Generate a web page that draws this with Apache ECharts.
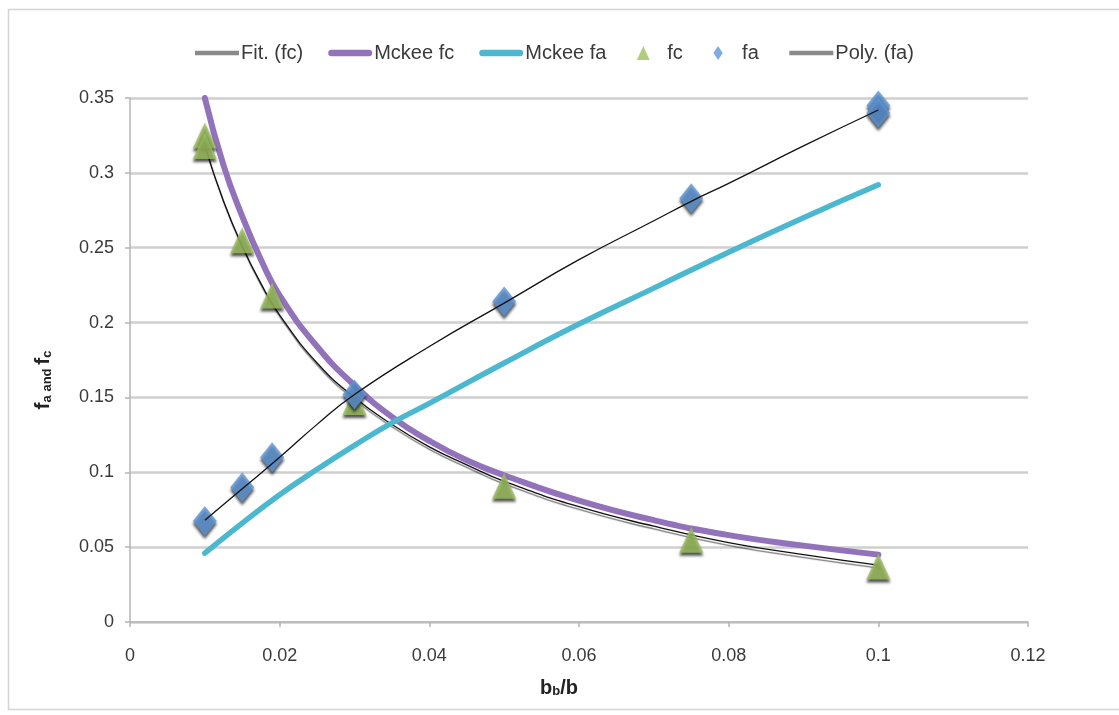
<!DOCTYPE html>
<html>
<head>
<meta charset="utf-8">
<script src="https://cdn.jsdelivr.net/npm/echarts@6/dist/echarts.min.js"></script>
<style>
  html, body { margin: 0; padding: 0; background: #fff; }
  #chart { width: 1119px; height: 715px; }
</style>
</head>
<body>
<div id="chart"></div>
<script>
// Axis ticks
const xTicks = [0, 0.02, 0.04, 0.06, 0.08, 0.1, 0.12];
const yTicks = [0, 0.05, 0.1, 0.15, 0.2, 0.25, 0.3, 0.35];

// Measured points
const fcX = [0.01, 0.01, 0.015, 0.019, 0.03, 0.05, 0.075, 0.1];
const fcY = [0.325, 0.318, 0.255, 0.218, 0.147, 0.091, 0.055, 0.037];
const faX = [0.01, 0.015, 0.019, 0.03, 0.05, 0.075, 0.1, 0.1];
const faY = [0.0675, 0.090, 0.110, 0.152, 0.214, 0.283, 0.345, 0.340];

// Fitted curve for fc
const fitFcX = [0.010, 0.0125, 0.015, 0.0175, 0.02, 0.025, 0.03, 0.035, 0.04, 0.045, 0.05, 0.06, 0.07, 0.08, 0.09, 0.1];
const fitFcY = [0.318, 0.281, 0.251, 0.226, 0.205, 0.173, 0.150, 0.132, 0.117, 0.105, 0.094, 0.077, 0.064, 0.053, 0.045, 0.038];

// Polynomial trend for fa
const polyFaX = [0.010, 0.015, 0.02, 0.025, 0.03, 0.04, 0.05, 0.06, 0.07, 0.075, 0.08, 0.09, 0.1];
const polyFaY = [0.068, 0.089, 0.110, 0.132, 0.152, 0.184, 0.213, 0.242, 0.268, 0.281, 0.293, 0.318, 0.342];

// McKee curves
const mckeeFcX = [0.010, 0.0125, 0.015, 0.0175, 0.02, 0.025, 0.03, 0.035, 0.04, 0.045, 0.05, 0.06, 0.07, 0.08, 0.09, 0.1];
const mckeeFcY = [0.350, 0.305, 0.271, 0.242, 0.218, 0.184, 0.158, 0.137, 0.121, 0.108, 0.098, 0.081, 0.068, 0.058, 0.051, 0.045];
const mckeeFaX = [0.010, 0.015, 0.02, 0.025, 0.03, 0.035, 0.04, 0.05, 0.06, 0.07, 0.08, 0.09, 0.1];
const mckeeFaY = [0.046, 0.066, 0.085, 0.102, 0.118, 0.133, 0.146, 0.173, 0.199, 0.223, 0.247, 0.270, 0.292];

const zip = (xs, ys) => xs.map((x, i) => [x, ys[i]]);

const FONT = "'Liberation Sans', Arial, sans-serif";
const TXT = '#3a3a3a';

// Legend glyphs
const ICON_THIN = 'path://M0,0 L40,0 L40,4 L0,4 Z';
const ICON_THICK = 'path://M3,0 L37,0 A3,3 0 0 1 37,6 L3,6 A3,3 0 0 1 3,0 Z';
const ICON_TRI = 'path://M5,0 L10,11 L0,11 Z';
const ICON_DIA = 'path://M5,0 L9,6 L5,12 L1,6 Z';

// Extra space after some legend labels (marker entries sit further apart)
const legendTrail = { 'Mckee fa': 'g18', 'fc': 'g17', 'fa': 'g6' };

const chart = echarts.init(document.getElementById('chart'), null, { renderer: 'canvas' });

const markerShadow = {
  shadowColor: 'rgba(0,0,0,0.85)',
  shadowBlur: 3,
  shadowOffsetX: 0,
  shadowOffsetY: 3
};
const noShadow = { shadowBlur: 0, shadowOffsetY: 0, shadowColor: 'transparent' };

chart.setOption({
  backgroundColor: '#fff',
  animation: false,
  graphic: [{
    type: 'rect',
    shape: { x: 8.5, y: 9.5, width: 1130, height: 700 },
    style: { fill: 'none', stroke: '#d4d4d4', lineWidth: 1.5 },
    silent: true, z: -10
  }],
  legend: {
    left: 190,
    top: 38,
    itemWidth: 44,
    itemHeight: 14,
    itemGap: 25,
    symbolKeepAspect: true,
    formatter: name => legendTrail[name] ? name + '{' + legendTrail[name] + '|\u00a0}' : name,
    textStyle: {
      fontFamily: FONT, fontSize: 20, color: TXT, padding: [0, 0, 0, -3],
      rich: {
        g18: { width: 18, fontSize: 20 },
        g17: { width: 17, fontSize: 20 },
        g6: { width: 6, fontSize: 20 }
      }
    },
    data: [
      { name: 'Fit. (fc)', icon: ICON_THIN, itemStyle: { color: '#8a8a8a' } },
      { name: 'Mckee fc', icon: ICON_THICK, itemStyle: { color: '#9273bb' } },
      { name: 'Mckee fa', icon: ICON_THICK, itemStyle: { color: '#4cb8d0' } },
      { name: 'fc', icon: ICON_TRI, itemStyle: Object.assign({ color: '#9cc15e' }, noShadow) },
      { name: 'fa', icon: ICON_DIA, itemStyle: Object.assign({ color: '#5f97d8' }, noShadow) },
      { name: 'Poly. (fa)', icon: ICON_THIN, itemStyle: { color: '#8a8a8a' } }
    ]
  },
  grid: { left: 130, right: 91, top: 98, bottom: 93, containLabel: false },
  xAxis: {
    type: 'value',
    min: xTicks[0],
    max: xTicks[xTicks.length - 1],
    interval: 0.02,
    name: 'b{sub|b}/b',
    nameLocation: 'middle',
    nameGap: 56,
    nameTextStyle: {
      fontFamily: FONT, fontSize: 20, fontWeight: 'bold', color: '#222', padding: [0, 40, 0, 0],
      rich: { sub: { fontFamily: FONT, fontSize: 13, fontWeight: 'bold', color: '#222', verticalAlign: 'bottom', padding: [6, 0, 0, 0] } }
    },
    axisLine: { show: true, lineStyle: { color: '#b5b5b5', width: 1.5 } },
    axisTick: { show: true, length: 5, lineStyle: { color: '#b5b5b5', width: 1.5 } },
    axisLabel: {
      margin: 25, fontFamily: FONT, fontSize: 18, color: TXT,
      formatter: v => String(parseFloat(v.toFixed(4)))
    },
    splitLine: { show: false }
  },
  yAxis: {
    type: 'value',
    min: yTicks[0],
    max: yTicks[yTicks.length - 1],
    interval: 0.05,
    name: 'f{sub|a and }f{sub|c}',
    nameLocation: 'middle',
    nameRotate: 90,
    nameGap: 76,
    nameTextStyle: {
      fontFamily: FONT, fontSize: 21, fontWeight: 'bold', color: '#222', padding: [0, 0, 0, -40],
      rich: { sub: { fontFamily: FONT, fontSize: 13, fontWeight: 'bold', color: '#222', verticalAlign: 'bottom', padding: [6, 0, 0, 0] } }
    },
    axisLine: { show: true, lineStyle: { color: '#b5b5b5', width: 1.5 } },
    axisTick: { show: true, length: 5, lineStyle: { color: '#b5b5b5', width: 1.5 } },
    axisLabel: {
      margin: 16, fontFamily: FONT, fontSize: 18, color: TXT,
      formatter: v => String(parseFloat(v.toFixed(4)))
    },
    splitLine: { show: true, lineStyle: { color: '#cfcfcf', width: 2.5 } }
  },
  series: [
    {
      name: 'Fit. (fc)',
      type: 'line',
      smooth: 0.5,
      symbol: 'none',
      data: zip(fitFcX, fitFcY),
      lineStyle: { color: '#111', width: 1.3, shadowColor: 'rgba(0,0,0,0.55)', shadowBlur: 1, shadowOffsetX: 1, shadowOffsetY: 3 },
      itemStyle: { color: '#111' },
      z: 2
    },
    {
      name: 'Mckee fc',
      type: 'line',
      smooth: 0.5,
      symbol: 'none',
      data: zip(mckeeFcX, mckeeFcY),
      lineStyle: { color: '#9273bb', width: 6, cap: 'round' },
      itemStyle: { color: '#9273bb' },
      z: 3
    },
    {
      name: 'Mckee fa',
      type: 'line',
      smooth: 0.5,
      symbol: 'none',
      data: zip(mckeeFaX, mckeeFaY),
      lineStyle: { color: '#4cb8d0', width: 5.5, cap: 'round' },
      itemStyle: { color: '#4cb8d0' },
      z: 3
    },
    {
      name: 'fc',
      type: 'scatter',
      symbol: 'triangle',
      symbolSize: [24, 26],
      data: zip(fcX, fcY),
      itemStyle: Object.assign({ color: '#9cc15e' }, markerShadow),
      z: 4
    },
    {
      name: 'fa',
      type: 'scatter',
      symbol: 'diamond',
      symbolSize: [24, 30],
      data: zip(faX, faY),
      itemStyle: Object.assign({ color: '#5f97d8' }, markerShadow),
      z: 4
    },
    {
      name: 'Poly. (fa)',
      type: 'line',
      smooth: 0.5,
      symbol: 'none',
      data: zip(polyFaX, polyFaY),
      lineStyle: { color: '#111', width: 1.3 },
      itemStyle: { color: '#111' },
      z: 5
    }
  ]
});
</script>
</body>
</html>
